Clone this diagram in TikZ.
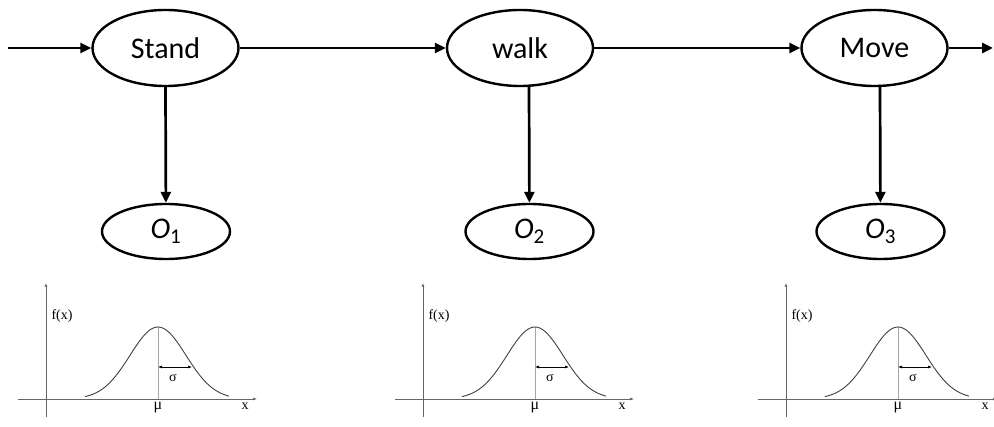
\documentclass[tikz,border=0pt]{standalone}
\usepackage{fontspec}
\setmainfont{Carlito}
\newfontfamily\plotfont{Liberation Serif}
\usetikzlibrary{shapes.geometric,arrows.meta}
\begin{document}
\begin{tikzpicture}[
  x=1pt, y=-1pt,
  state/.style={draw,ellipse,line width=2.4pt,minimum width=146pt,
    minimum height=76pt,inner sep=0pt,font=\fontsize{30}{32}\selectfont},
  obs/.style={draw,ellipse,line width=2.4pt,minimum width=128pt,
    minimum height=55pt,inner sep=0pt,font=\fontsize{30}{32}\selectfont},
  link/.style={line width=2.7pt,-{Triangle[length=11pt,width=10pt]}},
  axis/.style={gray!80!black,line width=0.6pt,-{Latex[length=4pt,width=3pt]}},
  lbl/.style={font=\plotfont\fontsize{14}{15}\selectfont,inner sep=0pt}]
\useasboundingbox (0,0) rectangle (994,427);
% hidden states
\node[state] (stand) at (165.5,48) {Stand};
\node[state] (walk)  at (520,48)   {walk};
\node[state] (move)  at (874.5,48) {Move};
\coordinate (in)  at (8,48);
\coordinate (out) at (993,48);
\draw[link] (in) -- (stand);
\draw[link] (stand) -- (walk);
\draw[link] (walk) -- (move);
\draw[link] (move) -- (out);
% observations
\node[obs] (o1) at (166,231.5)   {\itshape O\textsubscript{\upshape 1}};
\node[obs] (o2) at (529.5,231.5) {\itshape O\textsubscript{\upshape 2}};
\node[obs] (o3) at (880.5,231.5) {\itshape O\textsubscript{\upshape 3}};
\draw[link] (stand.south) -- (o1);
\draw[link] (529,85) -- (o2);
\draw[link] (880,85) -- (o3);
% emission densities
\foreach \dx in {0,377,740} {
  \begin{scope}[xshift=\dx pt]
    \draw[axis] (18,399) -- (257,399);
    \draw[axis] (46,417) -- (46,283);
    \draw[gray!70,line width=0.7pt] (158,327) -- (158,399);
    \draw[black!75,line width=0.9pt,smooth,samples=60,domain=-73:71]
      plot ({158+\x},{399-72*exp(-(\x*\x)/(2*28*28))});
    \draw[line width=0.6pt,{Latex[length=4pt,width=3pt]}-{Latex[length=4pt,width=3pt]}]
      (158,367) -- (192,367);
    \node[lbl] at (62,316) {f(x)};
    \node[lbl] at (173,378) {σ};
    \node[inner sep=0pt,font=\plotfont\fontsize{16}{17}\selectfont] at (158,408) {μ};
    \node[lbl] at (245,406) {x};
  \end{scope}
}
\end{tikzpicture}
\end{document}
